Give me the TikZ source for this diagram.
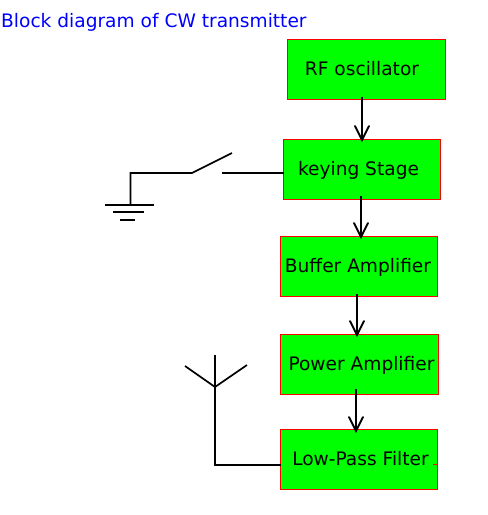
\documentclass[tikz,border=0pt]{standalone}
\usepackage{fontspec}
\setmainfont{DejaVu Sans}
\usetikzlibrary{calc}
\definecolor{boxgreen}{RGB}{0,255,0}
\definecolor{titleblue}{RGB}{0,0,255}
\tikzset{
  x=1pt,y=-1pt,
  blockbox/.style={draw=red,fill=boxgreen,line width=1.4pt,minimum width=#1,minimum height=60pt,inner sep=0pt,outer sep=0pt,anchor=north west},
  blocktext/.style={text=black,font=\fontsize{18.6}{20}\selectfont,inner sep=0pt,anchor=base},
  wire/.style={draw=black,line width=1.7pt},
  flow/.style={draw=black,line width=2pt},
  flowhead/.style={draw=black,line width=1.8pt,line cap=round},
}
\newcommand{\flowarrow}[2]{%
  \draw[flow] (#1) -- (#2);
  \draw[flowhead] ($(#2)+(-7,-14)$) -- (#2) -- ($(#2)+(7,-14)$);
}
\begin{document}
\begin{tikzpicture}
\useasboundingbox (0,0) rectangle (488,515);
\fill[white] (0,0) rectangle (488,515);

\node[blockbox=158pt] (rf) at (287.5,39.5) {};
\node[blockbox=157pt] (key) at (283.5,139.5) {};
\node[blockbox=157pt] (buf) at (280.5,236.5) {};
\node[blockbox=158pt] (pow) at (280.5,334.5) {};
\node[blockbox=157pt] (lpf) at (280.5,429.5) {};

\node[blocktext] (rft) at (362,75) {RF oscillator};
\node[blocktext] (keyt) at (358.5,175) {keying Stage};
\node[blocktext] (buft) at (358,272) {Buffer Amplifier};
\node[blocktext] (powt) at (361.5,370) {Power Amplifier};
\node[blocktext] (lpft) at (360.5,465) {Low-Pass Filter};
\node[anchor=base west,inner sep=0pt,text=titleblue,font=\fontsize{18.6}{20}\selectfont] (title) at (1,27) {Block diagram of CW transmitter};

\coordinate (a1s) at (362,97); \coordinate (a1e) at (362,140);
\coordinate (a2s) at (361,196); \coordinate (a2e) at (361,237);
\coordinate (a3s) at (357,294); \coordinate (a3e) at (357,335);
\coordinate (a4s) at (356,389); \coordinate (a4e) at (356,431);
\flowarrow{a1s}{a1e}
\flowarrow{a2s}{a2e}
\flowarrow{a3s}{a3e}
\flowarrow{a4s}{a4e}

% switch and ground
\coordinate (swa) at (222,173);
\coordinate (swb) at (192,173);
\coordinate (swc) at (232,153);
\coordinate (gndtop) at (130.5,205);
\draw[wire] (key.west |- swa) -- (swa);
\draw[wire] (swc) -- (swb) -- (130.5,173) -- (gndtop);
\draw[wire] (105,205) -- (154,205);
\draw[wire] (113,212) -- (144,212);
\draw[wire] (120,220) -- (135,220);

% antenna
\coordinate (ant) at (215,387);
\coordinate (anttop) at (215,355);
\coordinate (antfoot) at (215,465);
\draw[wire] (lpf.west |- antfoot) -- (antfoot) -- (anttop);
\draw[wire] (185,366) -- (ant) -- (247,365);
\draw[draw=red,line width=1pt] (433,464.5) -- (lpf.east |- 0,464.5);
\end{tikzpicture}
\end{document}
